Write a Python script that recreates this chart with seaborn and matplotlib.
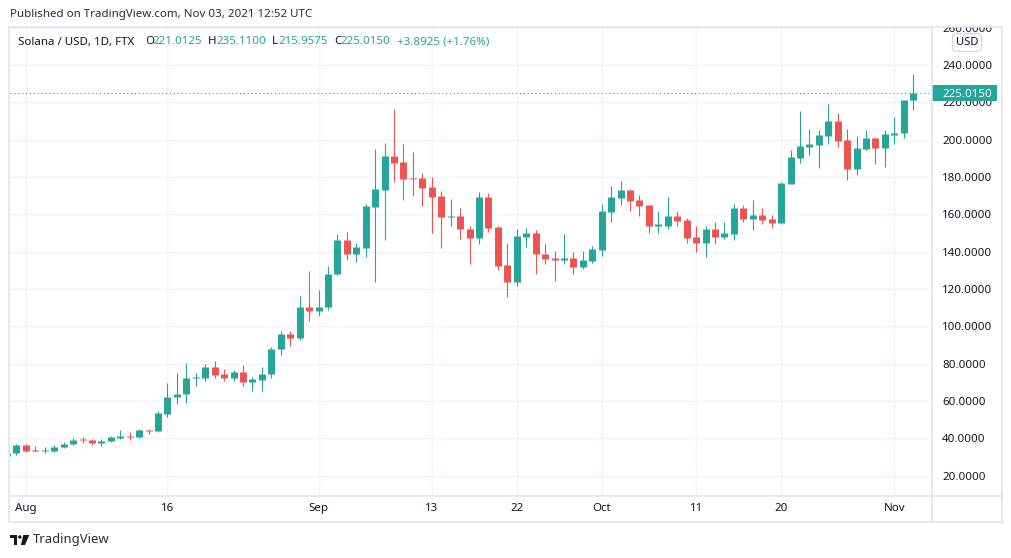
import numpy as np
import pandas as pd
import matplotlib
matplotlib.use("Agg")
import matplotlib.pyplot as plt
import matplotlib.transforms as mtransforms
from matplotlib.patches import Rectangle, Polygon, Ellipse
from matplotlib.lines import Line2D
import seaborn as sns
import seaborn.objects as so

# ---------------- data ----------------
start_date = "2021-07-30"
end_date = "2021-11-03"

opens = [30.5, 32.0, 36.6, 33.9, 33.0, 33.4, 35.2, 36.8, 39.3, 39.3,
         37.3, 38.4, 40.0, 41.3, 40.5, 44.7, 43.8, 52.9, 62.0, 63.6,
         72.2, 72.2, 78.4, 74.3, 72.2, 75.8, 70.0, 71.5, 74.3, 87.7,
         96.1, 93.5, 110.1, 108.1, 110.1, 127.9, 146.5, 138.7, 141.9, 163.9,
         173.0, 191.0, 187.8, 179.2, 179.2, 174.4, 169.6, 158.4, 158.9, 151.9,
         147.2, 169.1, 153.0, 132.8, 123.6, 147.8, 149.8, 139.0, 136.4, 135.4,
         136.4, 131.7, 134.9, 140.8, 161.2, 168.7, 172.8, 167.5, 164.8, 153.5,
         154.0, 158.9, 156.7, 147.6, 144.6, 152.4, 147.8, 149.4, 163.2, 157.4,
         159.9, 157.3, 155.3, 176.2, 190.0, 195.9, 196.9, 201.8, 209.8, 199.6,
         184.2, 195.0, 200.7, 195.5, 202.5, 203.5, 221.0125]
highs = [33.0, 37.2, 36.9, 35.9, 35.5, 36.3, 38.2, 40.4, 40.5, 39.5,
         39.5, 41.4, 44.3, 43.6, 45.0, 45.0, 54.9, 69.9, 75.2, 80.6,
         75.2, 79.9, 81.7, 77.4, 76.8, 79.5, 72.7, 78.4, 88.8, 97.7,
         97.7, 116.5, 129.9, 119.7, 132.1, 149.2, 150.8, 144.9, 165.8, 194.8,
         198.0, 216.2, 197.5, 193.2, 181.9, 179.8, 172.3, 168.0, 163.2, 153.5,
         171.7, 171.2, 153.5, 144.6, 152.1, 152.6, 151.5, 143.9, 140.6, 149.2,
         139.7, 140.1, 142.8, 165.3, 175.0, 177.6, 173.4, 170.1, 165.0, 161.6,
         169.1, 161.6, 158.3, 154.0, 153.5, 155.7, 155.7, 165.3, 164.8, 167.5,
         163.2, 159.4, 177.3, 194.3, 215.2, 205.5, 205.0, 219.0, 214.1, 205.5,
         201.8, 205.0, 200.9, 205.0, 212.0, 221.5, 235.11]
lows = [29.8, 31.3, 32.9, 32.5, 32.2, 32.9, 35.0, 36.5, 37.7, 36.3,
        35.7, 38.1, 39.8, 39.1, 40.2, 42.1, 43.2, 51.6, 58.2, 59.1,
        67.9, 70.6, 72.2, 70.6, 70.9, 67.9, 65.6, 65.6, 72.2, 84.9,
        89.7, 92.9, 102.7, 105.4, 109.0, 127.6, 135.4, 134.4, 137.0, 123.6,
        146.2, 177.3, 167.6, 169.8, 164.4, 149.9, 141.9, 153.7, 146.7, 133.3,
        144.0, 150.5, 130.1, 115.6, 121.5, 142.4, 127.9, 133.3, 124.2, 133.3,
        127.9, 130.6, 133.8, 137.6, 155.8, 164.9, 161.7, 159.0, 149.9, 149.9,
        151.9, 153.5, 144.9, 139.6, 137.0, 144.0, 146.7, 146.2, 155.8, 151.5,
        154.7, 152.6, 154.7, 176.0, 187.5, 191.6, 184.6, 197.5, 195.9, 178.3,
        181.0, 194.3, 186.9, 185.3, 197.6, 200.9, 215.9575]
closes = [32.0, 36.6, 33.4, 33.0, 33.9, 35.4, 37.2, 39.3, 39.0, 37.3,
          38.8, 40.5, 41.4, 40.7, 44.7, 43.8, 53.4, 62.4, 64.0, 72.5,
          72.7, 78.4, 73.8, 72.4, 75.8, 70.0, 72.0, 74.7, 88.1, 96.1,
          93.6, 110.1, 108.1, 110.6, 128.3, 146.5, 138.7, 142.3, 164.2, 173.4,
          191.0, 187.5, 178.9, 178.8, 174.0, 169.2, 158.5, 158.8, 152.1, 147.2,
          169.1, 152.6, 132.2, 123.6, 148.3, 149.8, 138.7, 136.0, 135.4, 136.4,
          131.7, 135.3, 141.2, 161.6, 169.1, 172.8, 167.1, 164.4, 153.7, 154.6,
          158.9, 156.4, 147.2, 144.6, 152.4, 147.8, 149.8, 163.2, 157.4, 159.9,
          156.9, 155.3, 176.6, 190.5, 196.4, 197.5, 202.3, 209.8, 199.1, 184.2,
          195.3, 200.7, 195.5, 202.8, 203.4, 221.1225, 225.015]

tick_dates = ["2021-08-01", "2021-08-16", "2021-09-01", "2021-09-13", "2021-09-22",
              "2021-10-01", "2021-10-11", "2021-10-20", "2021-11-01"]
tick_labels = ["Aug", "16", "Sep", "13", "22", "Oct", "11", "20", "Nov"]
month_labels = ["Aug", "Sep", "Oct", "Nov"]
price_ticks = [20, 40, 60, 80, 100, 120, 140, 160, 180, 200, 220, 240, 260]

published_text = "Published on TradingView.com, Nov 03, 2021 12:52 UTC"
symbol_text = "Solana / USD, 1D, FTX"
currency_text = "USD"
brand_text = "TradingView"

GREEN = "#26a69a"
RED = "#ef5350"
TEXT = "#131722"
GRID = "#f0f3fa"
FRAME = "#e0e3eb"

# ---------------- style ----------------
sns.set_theme(style="white")
plt.rcParams["font.family"] = ["Noto Sans", "DejaVu Sans"]

W, H = 1012, 558
fig = plt.figure(figsize=(W / 100, H / 100), dpi=100)
fig.patch.set_facecolor("white")


def fx(px):
    return px / W


def fy(py):
    return 1 - py / H


AX_L, AX_R, AX_T, AX_B = 10, 932.3, 26.7, 495.7
ax = fig.add_axes([fx(AX_L), fy(AX_B), fx(AX_R) - fx(AX_L), fy(AX_T) - fy(AX_B)])

# ---------------- table ----------------
dates = pd.date_range(start_date, end_date, freq="D")
df = pd.DataFrame({"date": dates, "open": opens, "high": highs,
                   "low": lows, "close": closes})
df["day"] = (df["date"] - dates[0]).dt.days.astype(float)
df["body_lo"] = df[["open", "close"]].min(axis=1)
df["body_hi"] = np.maximum(df[["open", "close"]].max(axis=1), df["body_lo"] + 0.55)
up = df[df["close"] >= df["open"]]
down = df[df["close"] < df["open"]]

butt = {"capstyle": "butt"}
(
    so.Plot(df, x="day")
    .add(so.Range(color=GREEN, linewidth=0.8, artist_kws=dict(butt)),
         data=up, ymin="low", ymax="high")
    .add(so.Range(color=RED, linewidth=0.8, artist_kws=dict(butt)),
         data=down, ymin="low", ymax="high")
    .add(so.Range(color=GREEN, linewidth=5.0, artist_kws=dict(butt)),
         data=up, ymin="body_lo", ymax="body_hi")
    .add(so.Range(color=RED, linewidth=5.0, artist_kws=dict(butt)),
         data=down, ymin="body_lo", ymax="body_hi")
    .on(ax)
    .plot()
)

# ---------------- axes cosmetics ----------------
ax.set_facecolor("white")
for s in ax.spines.values():
    s.set_visible(False)
ax.set_xlim(0.316, 98.02)
ax.set_ylim(9.29, 260.5)
ax.set_xlabel("")
ax.set_ylabel("")
tick_x = [(pd.Timestamp(d) - dates[0]).days for d in tick_dates]
ax.set_xticks(tick_x, tick_labels)
ax.yaxis.tick_right()
ax.set_yticks(price_ticks, [f"{v:.4f}" for v in price_ticks])
ax.tick_params(axis="both", length=0, labelsize=8.3, labelcolor=TEXT)
ax.tick_params(axis="y", pad=7.2)
ax.tick_params(axis="x", pad=5)
for lbl in ax.get_xticklabels():
    if lbl.get_text() in month_labels:
        lbl.set_fontweight("bold")
ax.grid(True, color=GRID, linewidth=1.0)
ax.set_axisbelow(True)

last_close = closes[-1]
ax.axhline(last_close, color=GREEN, linewidth=0.8, linestyle=(0, (1, 2.5)), zorder=1.5)

# price tag on axis
blend = mtransforms.blended_transform_factory(ax.transAxes, ax.transData)
ax_w_px = AX_R - AX_L
px_per_unit = (AX_B - AX_T) / (260.5 - 9.29)
box_h = 16.7 / px_per_unit
ax.add_patch(Rectangle((1.0, last_close - box_h / 2), 64.5 / ax_w_px, box_h,
                       transform=blend, facecolor=GREEN, edgecolor="none",
                       clip_on=False, zorder=5))
ax.text(1.0 + 10 / ax_w_px, last_close, f"{last_close:.4f}", transform=blend,
        color="white", fontsize=8.3, va="center_baseline", ha="left",
        clip_on=False, zorder=6)

# ---------------- frame ----------------
fig.add_artist(Rectangle((0, fy(26.5)), 1, 1 - fy(26.5), transform=fig.transFigure,
                         facecolor="white", edgecolor="none", zorder=1))


def fline(x0, y0, x1, y1):
    fig.add_artist(Line2D([fx(x0), fx(x1)], [fy(y0), fy(y1)], transform=fig.transFigure,
                          color=FRAME, linewidth=1.1, zorder=2))


fline(9, 27, 1002, 27)
fline(9, 522, 1002, 522)
fline(9, 27, 9, 522)
fline(1002, 27, 1002, 522)
fline(AX_R, 27, AX_R, 522)
fline(9, AX_B, 1002, AX_B)

# ---------------- texts ----------------
fig.text(fx(10), fy(14), published_text, fontsize=8.3, color="#2a2e39",
         ha="left", va="center", zorder=3)

o, h, l, c = opens[-1], highs[-1], lows[-1], closes[-1]
chg = c - closes[-2]
pct = chg / closes[-2] * 100
pieces = [(18.3, symbol_text, TEXT), (145.7, "O", TEXT), (152.7, f"{o:.4f}", GREEN),
          (208.3, "H", TEXT), (216.0, f"{h:.4f}", GREEN),
          (271.7, "L", TEXT), (278.3, f"{l:.4f}", GREEN),
          (334.3, "C", TEXT), (340.7, f"{c:.4f}", GREEN),
          (396.7, f"{chg:+.4f} ({pct:+.2f}%)", GREEN)]
for px, txt, col in pieces:
    fig.text(fx(px), fy(42), txt, fontsize=8.3, color=col, ha="left", va="center", zorder=3)

fig.text(fx(967), fy(42.5), currency_text, fontsize=8.0, color=TEXT, ha="center",
         va="center", zorder=4,
         bbox=dict(boxstyle="round,pad=0.3,rounding_size=0.35", facecolor="white",
                   edgecolor="#d1d4dc", linewidth=0.8))

# brand logo
def fpoly(pts, **kw):
    fig.add_artist(Polygon([(fx(a), fy(b)) for a, b in pts], closed=True,
                           transform=fig.transFigure, **kw))


logo_col = "#131722"
fpoly([(10, 535), (17.3, 535), (17.3, 545), (13.6, 545), (13.6, 538.4), (10, 538.4)],
      facecolor=logo_col, edgecolor="none", zorder=3)
fig.add_artist(Ellipse((fx(19.8), fy(537.0)), 3.4 / W, 3.4 / H, transform=fig.transFigure,
                       facecolor=logo_col, edgecolor="none", zorder=3))
fpoly([(23.3, 535), (29.3, 535), (25.0, 545), (21.0, 545)],
      facecolor=logo_col, edgecolor="none", zorder=3)
fig.text(fx(33), fy(540), brand_text, fontsize=9.4, color="#2a2e39",
         ha="left", va="center", zorder=3)

fig.savefig("out.png", dpi=100)
